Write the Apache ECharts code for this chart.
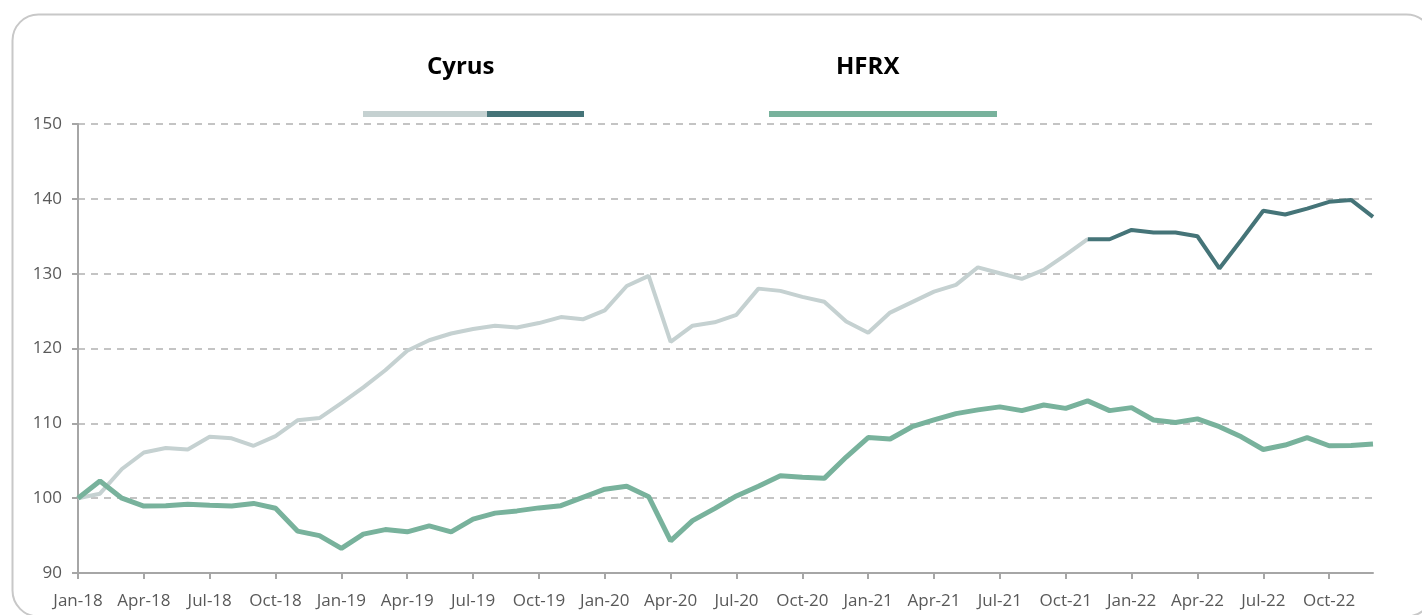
<!DOCTYPE html>
<html lang="en">
<head>
    <meta charset="UTF-8">
    <title>Cyrus vs HFRX</title>
    <script src="https://cdn.jsdelivr.net/npm/echarts@6/dist/echarts.min.js"></script>
    <style>
        html, body { margin: 0; padding: 0; background: #fff; }
        #main { width: 1422px; height: 615px; }
    </style>
</head>
<body>
<div id="main"></div>
<script>
    // monthly, Jan-18 .. Dec-22
    const months = ['Jan', 'Feb', 'Mar', 'Apr', 'May', 'Jun', 'Jul', 'Aug', 'Sep', 'Oct', 'Nov', 'Dec']
    const years = ['18', '19', '20', '21', '22']
    const categories = []
    for (const y of years) {
        for (const m of months) categories.push(m + '-' + y)
    }

    const yTicks = [90, 100, 110, 120, 130, 140, 150]

    // Cyrus, older part (light line) Jan-18 .. Nov-21
    const cyrusEarly = [
        100, 100.6, 103.9, 106.1, 106.7, 106.5, 108.2, 108.0, 107.0, 108.3, 110.4, 110.7,
        112.7, 114.8, 117.1, 119.7, 121.1, 122.0, 122.6, 123.05, 122.8, 123.4, 124.2, 123.9,
        125.1, 128.35, 129.7, 120.9, 123.05, 123.5, 124.5, 128.0, 127.7, 126.9, 126.25, 123.6,
        122.1, 124.8, 126.2, 127.6, 128.5, 130.85, 130.05, 129.3, 130.5, 132.5, 134.6
    ]
    // Cyrus, recent part (dark line) Nov-21 .. Dec-22
    const cyrusLate = [
        134.6, 134.6, 135.85, 135.5, 135.5, 135.0, 130.7, 134.5, 138.4, 137.9, 138.7, 139.6,
        139.85, 137.6
    ]
    const hfrx = [
        100, 102.3, 100.0, 98.95, 99.0, 99.2, 99.05, 98.95, 99.3, 98.65, 95.6, 95.0,
        93.3, 95.2, 95.8, 95.5, 96.3, 95.5, 97.2, 98.0, 98.3, 98.7, 99.0, 100.1,
        101.2, 101.6, 100.2, 94.3, 97.0, 98.6, 100.3, 101.6, 103.0, 102.8, 102.65, 105.5,
        108.1, 107.9, 109.55, 110.45, 111.3, 111.8, 112.2, 111.7, 112.45, 112.0, 113.0, 111.7,
        112.1, 110.45, 110.1, 110.6, 109.55, 108.2, 106.5, 107.1, 108.1, 107.0, 107.05, 107.25
    ]

    const colLight = '#c5d1d1'
    const colDark = '#457478'
    const colGreen = '#78b29c'

    // pad the two Cyrus pieces out to full length
    const splitAt = cyrusEarly.length - 1
    const cyrusA = categories.map((c, i) => i < cyrusEarly.length ? cyrusEarly[i] : null)
    const cyrusB = categories.map((c, i) => i >= splitAt ? cyrusLate[i - splitAt] : null)

    const myChart = echarts.init(document.getElementById('main'))

    const axisText = {
        color: '#595959',
        fontFamily: 'Open Sans, sans-serif',
        fontSize: 17
    }

    const option = {
        animation: false,
        backgroundColor: '#fff',
        grid: { left: 78, right: 49, top: 124, bottom: 42 },
        xAxis: {
            type: 'category',
            data: categories,
            boundaryGap: false,
            axisLine: { lineStyle: { color: '#a6a6a6', width: 2 } },
            axisTick: { interval: 2, length: 6, lineStyle: { color: '#a6a6a6', width: 2 } },
            axisLabel: Object.assign({ interval: 2, margin: 20 }, axisText),
            splitLine: { show: false }
        },
        yAxis: {
            type: 'value',
            min: yTicks[0],
            max: yTicks[yTicks.length - 1],
            interval: 10,
            axisLine: { show: true, lineStyle: { color: '#a6a6a6', width: 2 } },
            axisTick: { show: true, length: 6, lineStyle: { color: '#a6a6a6', width: 2 } },
            axisLabel: Object.assign({ margin: 16 }, axisText),
            splitLine: { lineStyle: { color: '#c4c4c4', width: 2, type: [7, 6] } }
        },
        series: [
            {
                name: 'Cyrus', type: 'line', data: cyrusA, showSymbol: false,
                lineStyle: { color: colLight, width: 4 }, z: 2
            },
            {
                name: 'Cyrus recent', type: 'line', data: cyrusB, showSymbol: false,
                lineStyle: { color: colDark, width: 4 }, z: 3
            },
            {
                name: 'HFRX', type: 'line', data: hfrx, showSymbol: false,
                lineStyle: { color: colGreen, width: 5 }, z: 4
            }
        ],
        graphic: [
            // outer frame
            {
                type: 'rect', left: 10, top: 12, silent: true, z: -1,
                shape: { width: 1420, height: 602, r: 26 },
                style: { fill: 'none', stroke: '#c8c8c8', lineWidth: 2 }
            },
            // hand-made legend
            {
                type: 'text', left: 427, top: 55,
                style: { text: 'Cyrus', font: 'bold 24px "Open Sans"', fill: '#000' }
            },
            {
                type: 'rect', left: 363, top: 111,
                shape: { width: 124, height: 6 }, style: { fill: colLight }
            },
            {
                type: 'rect', left: 487, top: 111,
                shape: { width: 97, height: 6 }, style: { fill: colDark }
            },
            {
                type: 'text', left: 836, top: 55,
                style: { text: 'HFRX', font: 'bold 24px "Open Sans"', fill: '#000' }
            },
            {
                type: 'rect', left: 769, top: 111,
                shape: { width: 228, height: 6 }, style: { fill: colGreen }
            }
        ]
    }

    myChart.setOption(option)
</script>
</body>
</html>
